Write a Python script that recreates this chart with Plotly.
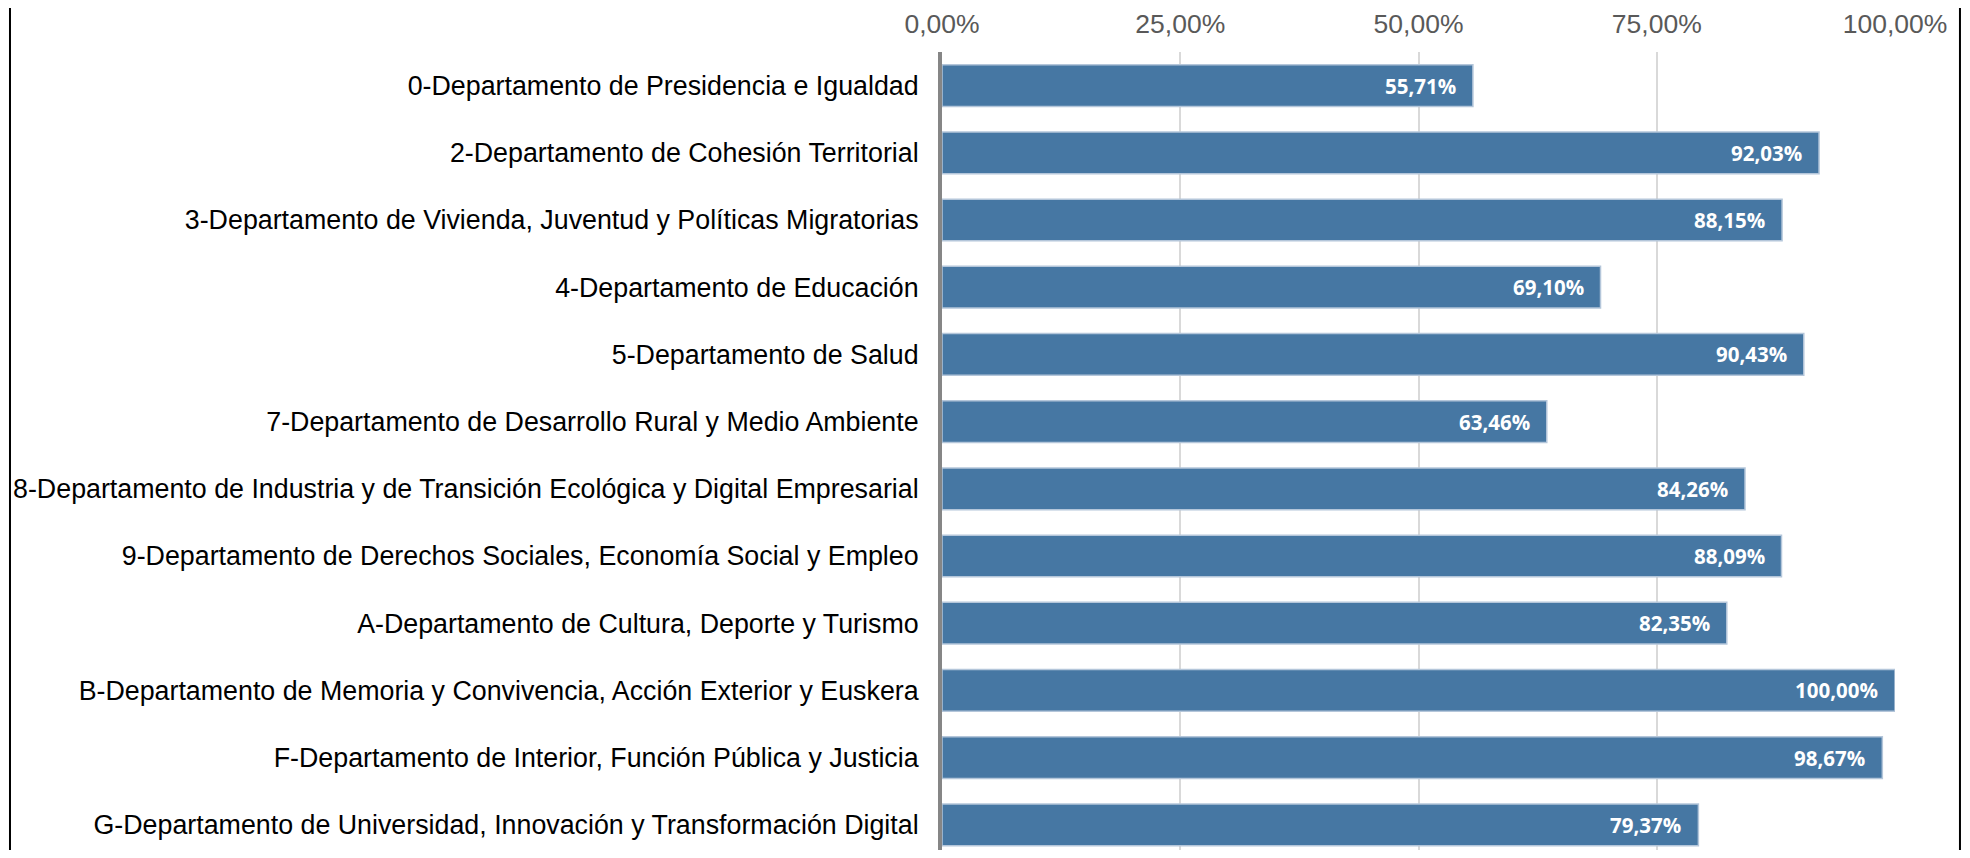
import plotly.graph_objects as go

categories = [
    "0-Departamento de Presidencia e Igualdad",
    "2-Departamento de Cohesión Territorial",
    "3-Departamento de Vivienda, Juventud y Políticas Migratorias",
    "4-Departamento de Educación",
    "5-Departamento de Salud",
    "7-Departamento de Desarrollo Rural y Medio Ambiente",
    "8-Departamento de Industria y de Transición Ecológica y Digital Empresarial",
    "9-Departamento de Derechos Sociales, Economía Social y Empleo",
    "A-Departamento de Cultura, Deporte y Turismo",
    "B-Departamento de Memoria y Convivencia, Acción Exterior y Euskera",
    "F-Departamento de Interior, Función Pública y Justicia",
    "G-Departamento de Universidad, Innovación y Transformación Digital",
]
values = [55.71, 92.03, 88.15, 69.10, 90.43, 63.46, 84.26, 88.09, 82.35, 100.00, 98.67, 79.37]
tick_values = [0, 25, 50, 75, 100]
tick_labels = ["0,00%", "25,00%", "50,00%", "75,00%", "100,00%"]

# figure sized so the page (with the 8px body margin) does not overflow the window
W, H = 1954, 842
ML, MR, MT, MB = 933.5, 67, 44, 0
band_px = 67.2  # height of one category band in the reference

def fmt(v):
    return f"{v:.2f}".replace(".", ",") + "%"

fig = go.Figure()
fig.add_trace(go.Bar(
    x=values,
    y=categories,
    orientation="h",
    marker=dict(color="#4677A3", line=dict(color="#B4C6DA", width=1.5)),
    hoverinfo="skip",
))

annotations = []
for c, v in zip(categories, values):
    annotations.append(dict(
        x=v, y=c, xref="x", yref="y", text=fmt(v), showarrow=False,
        xanchor="right", yanchor="middle", xshift=-15,
        font=dict(family="Open Sans", size=20.5, color="white", weight="bold"),
    ))

pw = W - ML - MR
ph = H - MT - MB
def px_to_paper_x(px):
    return (px - ML) / pw
def py_to_paper_y(py):
    return 1 - (py - MT) / ph

shapes = [
    dict(type="line", xref="paper", yref="paper",
         x0=px_to_paper_x(1), x1=px_to_paper_x(1),
         y0=py_to_paper_y(0), y1=py_to_paper_y(H), line=dict(color="black", width=2)),
    dict(type="line", xref="paper", yref="paper",
         x0=px_to_paper_x(W - 2), x1=px_to_paper_x(W - 2),
         y0=py_to_paper_y(0), y1=py_to_paper_y(H), line=dict(color="black", width=2)),
]

span = ph / band_px
fig.update_layout(
    width=W, height=H,
    margin=dict(l=ML, r=MR, t=MT, b=MB, autoexpand=False),
    plot_bgcolor="white", paper_bgcolor="white",
    bargap=0.38,
    showlegend=False,
    annotations=annotations,
    shapes=shapes,
    xaxis=dict(
        side="top", range=[0, 100], tickvals=tick_values, ticktext=tick_labels,
        showgrid=True, gridcolor="#D9D9D9", gridwidth=1.5, zeroline=False,
        showline=False, ticks="", ticklabelstandoff=13,
        tickfont=dict(family="Liberation Sans, Arial", size=26.5, color="#595959"),
        automargin=False, fixedrange=True,
    ),
    yaxis=dict(
        range=[-0.5 + span, -0.5], showgrid=False, zeroline=False,
        showline=True, linecolor="#868686", linewidth=4,
        ticks="", ticklabelstandoff=14,
        tickfont=dict(family="Liberation Sans, Arial", size=26.8, color="black"),
        automargin=False, fixedrange=True,
    ),
)

fig.write_html("out.html")
